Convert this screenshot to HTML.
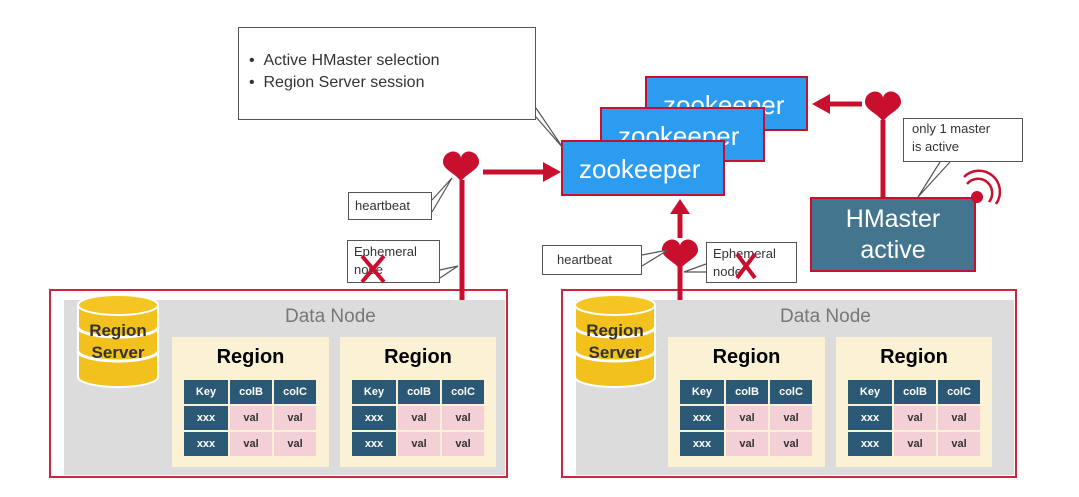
<!DOCTYPE html><html><head><style>
body{margin:0;width:1079px;height:497px;background:#fff;position:relative;overflow:hidden;font-family:"Liberation Sans",sans-serif}
.a{position:absolute;box-sizing:border-box}
.co{border:1.5px solid #555;background:#fff;font-size:13px;color:#333;line-height:18px;padding:2px 6px}
.zk{background:#2c9cf0;border:2px solid #c8102e;color:#fff;font-size:26px;padding-left:16px;line-height:54px}
.dn{border:2px solid #d0253f}
.gr{background:#dcdcdc}
.rg{background:#fbf2d6;text-align:center;font-weight:bold;font-size:20px}
table{border-collapse:collapse;position:absolute;left:10px;top:41px;font-size:11px}
td{height:24px;border:2px solid #fbf2d6;text-align:center;padding:0}
td.h{background:#2b5874;color:#fff;font-weight:bold}
td.v{background:#f2d0d6;color:#333;width:42px}
td.hv{background:#2b5874;color:#fff;font-weight:bold;width:42px}
td.k{width:44px}
</style></head><body>
<div class="a co" style="left:238px;top:27px;width:298px;height:93px;font-size:16px;line-height:22px;padding:22px 10px">• &nbsp;Active HMaster selection<br>• &nbsp;Region Server session</div>
<div class="a zk" style="left:645px;top:76px;width:163px;height:55px">zookeeper</div>
<div class="a zk" style="left:600px;top:107px;width:165px;height:55px">zookeeper</div>
<div class="a zk" style="left:561px;top:140px;width:164px;height:56px">zookeeper</div>
<div class="a" style="left:810px;top:197px;width:166px;height:75px;background:#44758f;border:2px solid #c8102e;color:#fff;font-size:25px;text-align:center;line-height:31px;padding-top:5px">HMaster<br>active</div>
<div class="a co" style="left:903px;top:118px;width:120px;height:44px;padding:1px 8px">only 1 master<br>is active</div>
<div class="a co" style="left:348px;top:192px;width:84px;height:28px;line-height:22px">heartbeat</div>
<div class="a co" style="left:347px;top:240px;width:93px;height:43px">Ephemeral<br>node</div>
<div class="a co" style="left:542px;top:245px;width:100px;height:30px;line-height:24px;padding-left:14px">heartbeat</div>
<div class="a co" style="left:706px;top:242px;width:91px;height:41px">Ephemeral<br>node</div>

<div class="a dn" style="left:49px;top:289px;width:459px;height:189px"></div>
<div class="a gr" style="left:64px;top:300px;width:441px;height:175px"></div>
<div class="a dn" style="left:561px;top:289px;width:456px;height:189px"></div>
<div class="a gr" style="left:576px;top:300px;width:438px;height:175px"></div>
<div class="a" style="left:285px;top:306px;font-size:19px;color:#777">Data Node</div>
<div class="a" style="left:780px;top:306px;font-size:19px;color:#777">Data Node</div>

<div class="a rg" style="left:172px;top:337px;width:157px;height:130px"><div style="margin-top:9px">Region</div><table><tr><td class="h k">Key</td><td class="hv">colB</td><td class="hv">colC</td></tr><tr><td class="h">xxx</td><td class="v">val</td><td class="v">val</td></tr><tr><td class="h">xxx</td><td class="v">val</td><td class="v">val</td></tr></table></div>
<div class="a rg" style="left:340px;top:337px;width:156px;height:130px"><div style="margin-top:9px">Region</div><table><tr><td class="h k">Key</td><td class="hv">colB</td><td class="hv">colC</td></tr><tr><td class="h">xxx</td><td class="v">val</td><td class="v">val</td></tr><tr><td class="h">xxx</td><td class="v">val</td><td class="v">val</td></tr></table></div>
<div class="a rg" style="left:668px;top:337px;width:157px;height:130px"><div style="margin-top:9px">Region</div><table><tr><td class="h k">Key</td><td class="hv">colB</td><td class="hv">colC</td></tr><tr><td class="h">xxx</td><td class="v">val</td><td class="v">val</td></tr><tr><td class="h">xxx</td><td class="v">val</td><td class="v">val</td></tr></table></div>
<div class="a rg" style="left:836px;top:337px;width:156px;height:130px"><div style="margin-top:9px">Region</div><table><tr><td class="h k">Key</td><td class="hv">colB</td><td class="hv">colC</td></tr><tr><td class="h">xxx</td><td class="v">val</td><td class="v">val</td></tr><tr><td class="h">xxx</td><td class="v">val</td><td class="v">val</td></tr></table></div>

<svg class="a" style="left:0;top:0" width="1079" height="497">
<defs><g id="cyl"><path d="M0,10 v72 a40,10 0 0 0 80,0 v-72" fill="#f3c11d" stroke="#fff" stroke-width="2"/><ellipse cx="40" cy="10" rx="40" ry="10" fill="#f5c623" stroke="#fff" stroke-width="2"/><path d="M0,32 a40,10 0 0 0 80,0 M0,56 a40,10 0 0 0 80,0" fill="none" stroke="#fff" stroke-width="3"/></g>
<path id="hrt" d="M0,14 C-4,6 -18,2 -18,-6 C-18,-14 -10,-18 -5,-16 C-2,-15 0,-12 0,-10 C0,-12 2,-15 5,-16 C10,-18 18,-14 18,-6 C18,2 4,6 0,14 Z" fill="#c8102e"/></defs>
<use href="#cyl" x="78" y="295"/><use href="#cyl" x="575" y="295"/>
<text x="118" y="336" font-size="17" font-weight="bold" text-anchor="middle" fill="#333">Region</text><text x="118" y="358" font-size="17" font-weight="bold" text-anchor="middle" fill="#333">Server</text>
<text x="615" y="336" font-size="17" font-weight="bold" text-anchor="middle" fill="#333">Region</text><text x="615" y="358" font-size="17" font-weight="bold" text-anchor="middle" fill="#333">Server</text>
<g stroke="#c8102e" stroke-width="5" fill="none">
<line x1="462" y1="180" x2="462" y2="300"/><line x1="483" y1="172" x2="545" y2="172"/>
<line x1="680" y1="262" x2="680" y2="300"/><line x1="680" y1="238" x2="680" y2="212"/>
<line x1="883" y1="120" x2="883" y2="197"/><line x1="862" y1="104" x2="828" y2="104"/>
</g>
<g fill="#c8102e"><polygon points="543,162 561,172 543,182"/><polygon points="670,214 680,199 690,214"/><polygon points="830,94 812,104 830,114"/></g>
<use href="#hrt" x="461" y="168"/><use href="#hrt" x="680" y="256"/><use href="#hrt" x="883" y="108"/>
<g stroke="#555" stroke-width="1.2" fill="#fff"><polyline points="536,108 563,148 536,117"/><polyline points="432,200 452,178 432,212"/><polyline points="440,270 458,266 440,278"/><polyline points="642,255 668,250 642,266"/><polyline points="706,264 684,272 706,272"/><polyline points="940,162 918,197 950,162"/></g>
<g stroke="#c8102e" stroke-width="4"><line x1="362" y1="256" x2="384" y2="282"/><line x1="384" y1="256" x2="362" y2="282"/><line x1="737" y1="254" x2="755" y2="278"/><line x1="755" y1="254" x2="737" y2="278"/></g>
<circle cx="977" cy="197" r="6" fill="#c8102e"/>
<g stroke="#c8102e" stroke-width="2.5" fill="none"><path d="M967,184 a14,14 0 0 1 22,18"/><path d="M964,177 a21,21 0 0 1 32,27"/></g>
</svg>
</body></html>
